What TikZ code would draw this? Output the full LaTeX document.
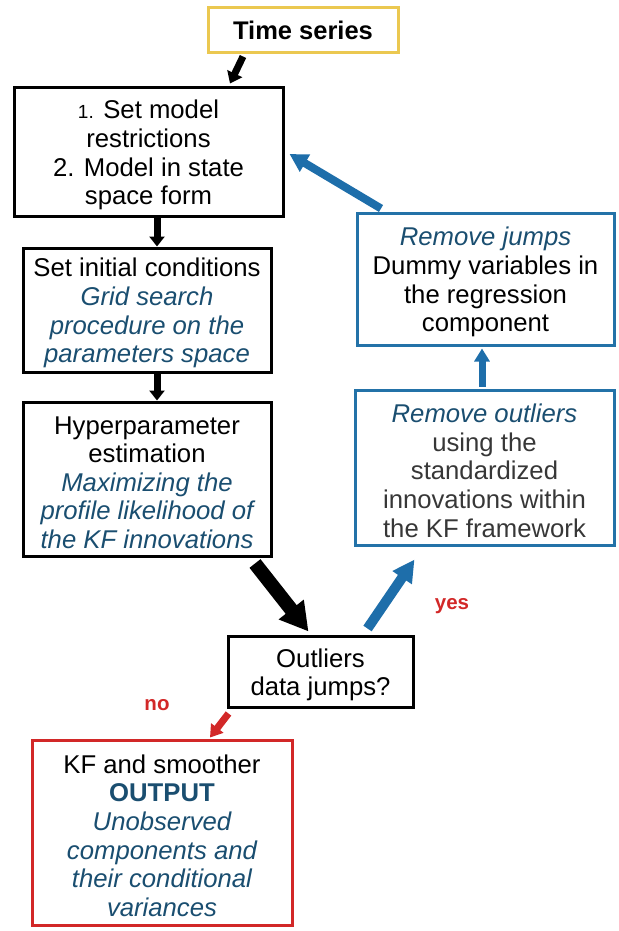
\documentclass[tikz,border=0pt]{standalone}
\usepackage{fontspec}
\setmainfont{Liberation Sans}
\usetikzlibrary{arrows.meta,calc}
\definecolor{tblue}{RGB}{26,78,112}
\definecolor{bblue}{RGB}{35,114,168}
\definecolor{ablue}{RGB}{30,110,170}
\definecolor{bred}{RGB}{210,40,40}
\definecolor{byellow}{RGB}{235,200,80}
\definecolor{tgray}{RGB}{55,55,55}
\newcommand\tstrut{\rule{0pt}{25pt}}
\begin{document}
\begin{tikzpicture}[x=1pt,y=-1pt,
  box/.style={draw, line width=3pt, align=center, inner sep=0pt,
    font=\fontsize{25.7}{28.6}\selectfont}]
\useasboundingbox (0,0) rectangle (618,931);
\node[box, draw=byellow, minimum width=190, minimum height=45, font=\bfseries\fontsize{25.5}{29}\selectfont] (ts) at (303,30.5) {Time series};
\node[box, minimum width=269, minimum height=128] (b1) at (148.5,152)
  {\tstrut{\fontsize{19}{29}\selectfont 1.} Set model\\restrictions\\2. Model in state\\space form};
\node[box, minimum width=248, minimum height=124] (b2) at (147,310)
  {\tstrut Set initial conditions\\\color{tblue}\itshape Grid search\\\color{tblue}\itshape procedure on the\\\color{tblue}\itshape parameters space};
\node[box, minimum width=248, minimum height=154] (b3) at (147,479)
  {\tstrut Hyperparameter\\estimation\\\color{tblue}\itshape Maximizing the\\\color{tblue}\itshape profile likelihood of\\\color{tblue}\itshape the KF innovations};
\node[box, minimum width=185, minimum height=71] (ol) at (320.5,671.5)
  {\tstrut Outliers\\data jumps?};
\node[box, draw=bred, minimum width=260, minimum height=185] (out) at (162,832.5)
  {\tstrut KF and smoother\\\color{tblue}\bfseries OUTPUT\\\color{tblue}\itshape Unobserved\\\color{tblue}\itshape components and\\\color{tblue}\itshape their conditional\\\color{tblue}\itshape variances};
\node[box, draw=bblue, minimum width=257, minimum height=132] (rj) at (485.5,279)
  {\tstrut\color{tblue}\itshape Remove jumps\\Dummy variables in\\the regression\\component};
\node[box, draw=bblue, minimum width=259, minimum height=155] (ro) at (484.5,467.5)
  {\tstrut\color{tblue}\itshape Remove outliers\\\color{tgray}using the\\\color{tgray}standardized\\\color{tgray}innovations within\\\color{tgray}the KF framework};
% connectors
\draw[line width=7pt, -{Triangle[length=11pt,width=16pt]}] ($(ts.south)+(-60,2)$) -- ($(b1.north)+(81.5,-3)$);
\draw[line width=7pt, -{Triangle[length=10pt,width=15pt]}] ($(b1.south)+(8.5,0)$) -- ($(b2.north)+(10,0)$);
\draw[line width=7pt, -{Triangle[length=10pt,width=15pt]}] ($(b2.south)+(10,0)$) -- ($(b3.north)+(10,0)$);
\draw[line width=14pt, -{Triangle[length=28pt,width=30pt]}] ($(b3.south)+(108,6)$) -- ($(ol.north)+(-12,-3)$);
\draw[ablue, line width=10pt, -{Triangle[length=22pt,width=22pt]}] ($(ol.north)+(47,-6)$) -- ($(ro.south)+(-70,13)$);
\draw[ablue, line width=7pt, -{Triangle[length=13pt,width=15pt]}] ($(ro.north)+(-2.5,-2)$) -- ($(rj.south)+(-3.5,2)$);
\draw[ablue, line width=8pt, -{Triangle[length=18pt,width=19pt]}] ($(rj.north)+(-104.5,-3)$) -- ($(b1.east)+(5,2)$);
\draw[bred, line width=7pt, -{Triangle[length=12pt,width=15pt]}] ($(ol.south west)+(2,5)$) -- ($(out.north)+(48,-1)$);
\node[text=bred, font=\bfseries\fontsize{20.5}{22}\selectfont] (yes) at (452,606) {yes};
\node[text=bred, font=\bfseries\fontsize{20.5}{22}\selectfont] (no) at (157,705) {no};
\end{tikzpicture}
\end{document}
